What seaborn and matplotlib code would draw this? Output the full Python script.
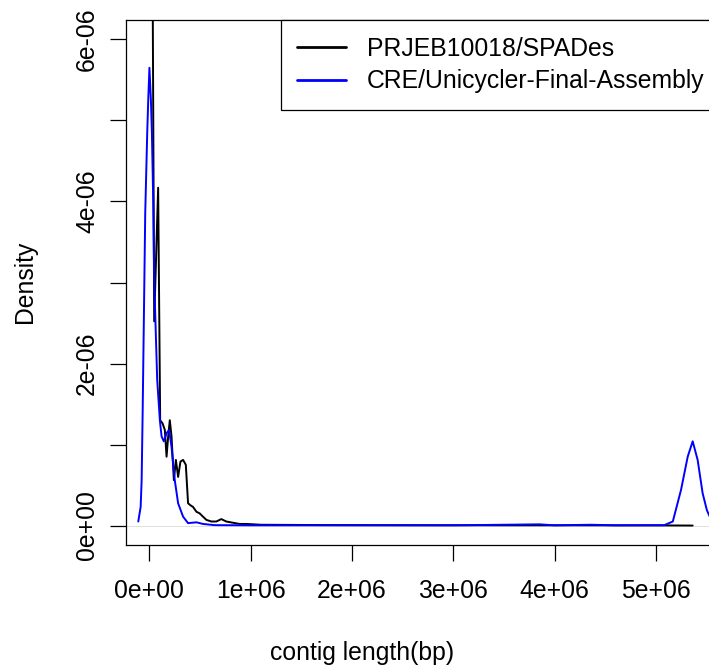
import matplotlib as mpl
from matplotlib import pyplot as plt
import pandas as pd
import seaborn as sns

# contig length (bp) and density
spades_len = [
    2.9e4, 4.9e4, 8.8e4, 1.08e5, 1.32e5, 1.54e5, 1.71e5, 1.87e5,
    2.03e5, 2.20e5, 2.43e5, 2.63e5, 2.85e5, 3.08e5, 3.34e5, 3.61e5, 3.83e5,
    4.07e5, 4.32e5, 4.66e5, 4.98e5, 5.30e5, 5.64e5, 6.13e5, 6.62e5, 7.11e5,
    7.60e5, 8.25e5, 8.91e5, 9.57e5, 1.1e6, 1.4e6, 1.7e6, 2.2e6, 2.8e6,
    3.5e6, 4.2e6, 5.0e6, 5.36e6,
]
spades_dens = [
    8.0, 2.52, 4.17, 1.30, 1.26, 1.18, 0.85, 1.10,
    1.30, 1.10, 0.56, 0.81, 0.60, 0.79, 0.81, 0.75, 0.275,
    0.25, 0.23, 0.17, 0.15, 0.11, 0.07, 0.05, 0.05, 0.08,
    0.05, 0.035, 0.02, 0.02, 0.01, 0.008, 0.006, 0.005, 0.004,
    0.003, 0.003, 0.002, 0.0,
]

unicycler_len = [
    -1.08e5, -8.45e4, -7.47e4, -6.48e4, -5.21e4, -3.93e4, -1.96e4, -9.8e3,
    2.0e3, 1.67e4, 2.65e4, 3.93e4, 4.91e4, 7.86e4, 1.05e5, 1.22e5, 1.44e5,
    1.71e5, 1.96e5, 2.20e5, 2.52e5, 2.85e5, 3.34e5, 3.83e5, 4.66e5, 5.30e5,
    6.45e5, 1.0e6, 2.0e6, 3.0e6, 3.85e6, 4.0e6, 4.36e6, 4.6e6, 5.08e6,
    5.164e6, 5.245e6, 5.311e6, 5.36e6, 5.409e6, 5.458e6, 5.50e6, 5.55e6,
    5.6e6,
]
unicycler_dens = [
    0.05, 0.23, 0.56, 1.39, 2.62, 3.86, 4.85, 5.25,
    5.65, 5.25, 4.85, 4.02, 3.03, 1.80, 1.30, 1.10, 1.04,
    1.14, 1.18, 0.97, 0.56, 0.275, 0.11, 0.03, 0.04, 0.02,
    0.005, 0.003, 0.003, 0.003, 0.015, 0.003, 0.01, 0.003, 0.005,
    0.05, 0.44, 0.85, 1.04, 0.81, 0.40, 0.19, 0.05,
    0.01,
]

labels = ["PRJEB10018/SPADes", "CRE/Unicycler-Final-Assembly"]
colors = ["black", "blue"]

x_ticks = [0, 1e6, 2e6, 3e6, 4e6, 5e6]
x_ticklabels = ["0e+00", "1e+06", "2e+06", "3e+06", "4e+06", "5e+06"]
y_ticks = [0, 1e-6, 2e-6, 3e-6, 4e-6, 5e-6, 6e-6]
y_ticklabels = ["0e+00", "", "2e-06", "", "4e-06", "", "6e-06"]

FS = 17.8

sns.set_style("white")
plt.rcParams["font.family"] = ["Liberation Sans", "DejaVu Sans"]
plt.rcParams["font.size"] = FS
plt.rcParams["text.color"] = "black"
plt.rcParams["axes.labelcolor"] = "black"
plt.rcParams["xtick.color"] = "black"
plt.rcParams["ytick.color"] = "black"

fig = plt.figure(figsize=(7.09, 6.71), dpi=100)
W, H = 709, 671
ax = fig.add_axes([126 / W, (H - 545) / H, (716 - 126) / W, (545 - 20) / H])

ax.axhline(0, color="#d9d9d9", lw=0.6, zorder=0)

for lens, dens, label, color in zip(
    [spades_len, unicycler_len],
    [spades_dens, unicycler_dens],
    labels,
    colors,
):
    df = pd.DataFrame({"length": lens, "density": [d * 1e-6 for d in dens]})
    sns.lineplot(
        data=df, x="length", y="density", color=color, lw=1.4,
        estimator=None, label=label, ax=ax,
    )

ax.set_xlim(-2.29e5, 5.59e6)
ax.set_ylim(-0.24e-6, 6.24e-6)

ax.xaxis.set_major_locator(mpl.ticker.FixedLocator(x_ticks))
ax.set_xticklabels(x_ticklabels)
ax.yaxis.set_major_locator(mpl.ticker.FixedLocator(y_ticks))
ax.set_yticklabels(y_ticklabels, rotation=90, va="center")

ax.tick_params(axis="both", direction="out", length=11.5, width=0.9,
               color="black", labelcolor="black", labelsize=FS,
               bottom=True, left=True)
ax.tick_params(axis="x", pad=13)
ax.tick_params(axis="y", pad=8)

for spine in ax.spines.values():
    spine.set_color("black")
    spine.set_linewidth(0.9)

ax.set_xlabel("contig length(bp)", fontsize=FS)
ax.set_ylabel("Density", fontsize=FS)
ax.xaxis.set_label_coords((W / 2 - 126 + 8) / 590, -(653 - 545) / 525)
ax.yaxis.set_label_coords(-(126 - 25) / 590, (545 - 282) / 525)
for lab in (ax.xaxis.label, ax.yaxis.label):
    lab.set_ha("center")
    lab.set_va("center")

leg = ax.legend(
    loc="upper right", bbox_to_anchor=(1.0085, 1.0), borderaxespad=0,
    frameon=True, fancybox=False, fontsize=FS, handlelength=1.95,
    handletextpad=0.85, labelspacing=0.34, borderpad=0.68,
)
leg.get_frame().set_edgecolor("black")
leg.get_frame().set_linewidth(0.9)
leg.get_frame().set_alpha(1)
for line in leg.get_lines():
    line.set_linewidth(2.0)

fig.savefig("out.png", dpi=100)
